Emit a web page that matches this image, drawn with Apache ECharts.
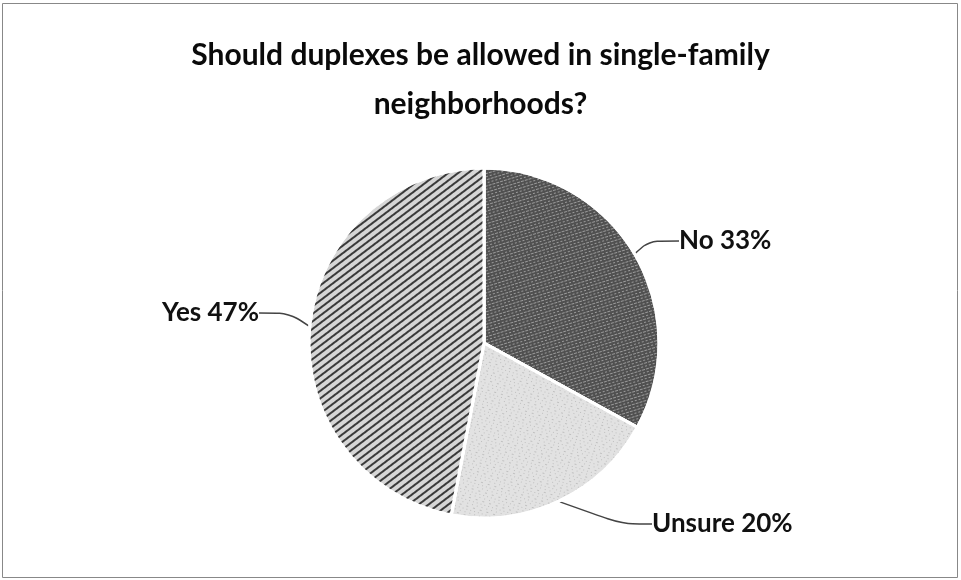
<!DOCTYPE html>
<html>
<head>
<meta charset="utf-8">
<script src="https://cdn.jsdelivr.net/npm/echarts@6/dist/echarts.min.js"></script>
<style>
html,body{margin:0;padding:0;background:#fff;}
#chart{width:961px;height:580px;}
</style>
</head>
<body>
<div id="chart"></div>
<script>
var titleText = 'Should duplexes be allowed in single-family\nneighborhoods?';
var categories = ['No', 'Unsure', 'Yes'];
var values = [33, 20, 47];
var labelPos = {
  'No': [679, 241, 'left'],
  'Unsure': [652, 524, 'left'],
  'Yes': [259, 313, 'right']
};

var styles = {
  'No': {
    color: '#505050',
    decal: { symbol: 'rect', symbolSize: 1, dashArrayX: [[3, 1], [2, 2]], dashArrayY: [1, 2], rotation: -0.3, color: 'rgba(215,215,215,0.55)' }
  },
  'Unsure': {
    color: '#e2e2e2',
    decal: { symbol: 'rect', symbolSize: 0.7, dashArrayX: [[1, 3], [1, 4], [2, 5]], dashArrayY: [1, 2], rotation: 0.3, color: 'rgba(50,50,50,0.55)' }
  },
  'Yes': {
    color: '#d6d6d6',
    decal: { symbol: 'rect', symbolSize: 1, dashArrayX: [1, 0], dashArrayY: [2, 4], rotation: -0.65, color: 'rgba(30,30,30,0.85)' }
  }
};

var data = categories.map(function (c, i) {
  return {
    name: c,
    value: values[i],
    itemStyle: { color: styles[c].color, decal: styles[c].decal }
  };
});

var chart = echarts.init(document.getElementById('chart'), null, { renderer: 'canvas' });
chart.setOption({
  backgroundColor: '#ffffff',
  aria: { enabled: true, decal: { show: true } },
  title: {
    text: titleText,
    left: 'center',
    top: 26,
    textStyle: { fontFamily: 'Lato', fontWeight: 'bold', fontSize: 30, color: '#0a0a0a', lineHeight: 49 }
  },
  graphic: [{
    type: 'rect',
    shape: { x: 2.5, y: 3.5, width: 955, height: 574 },
    style: { fill: 'none', stroke: '#888', lineWidth: 1 }
  }],
  series: [{
    type: 'pie',
    center: [484, 343],
    radius: 175,
    startAngle: 90,
    clockwise: true,
    animation: false,
    itemStyle: { borderColor: '#fff', borderWidth: 3 },
    label: {
      show: true,
      formatter: function (p) { return p.name + ' ' + p.value + '%'; },
      fontFamily: 'Lato',
      fontWeight: 'bold',
      fontSize: 26,
      color: '#111'
    },
    labelLine: { show: true, length: 6, length2: 30, smooth: 0.3, lineStyle: { color: '#444', width: 1.5 } },
    labelLayout: function (params) {
      var name = categories[params.dataIndex];
      var p = labelPos[name];
      return { x: p[0], y: p[1], align: p[2], verticalAlign: 'middle' };
    },
    data: data
  }]
});
</script>
</body>
</html>
